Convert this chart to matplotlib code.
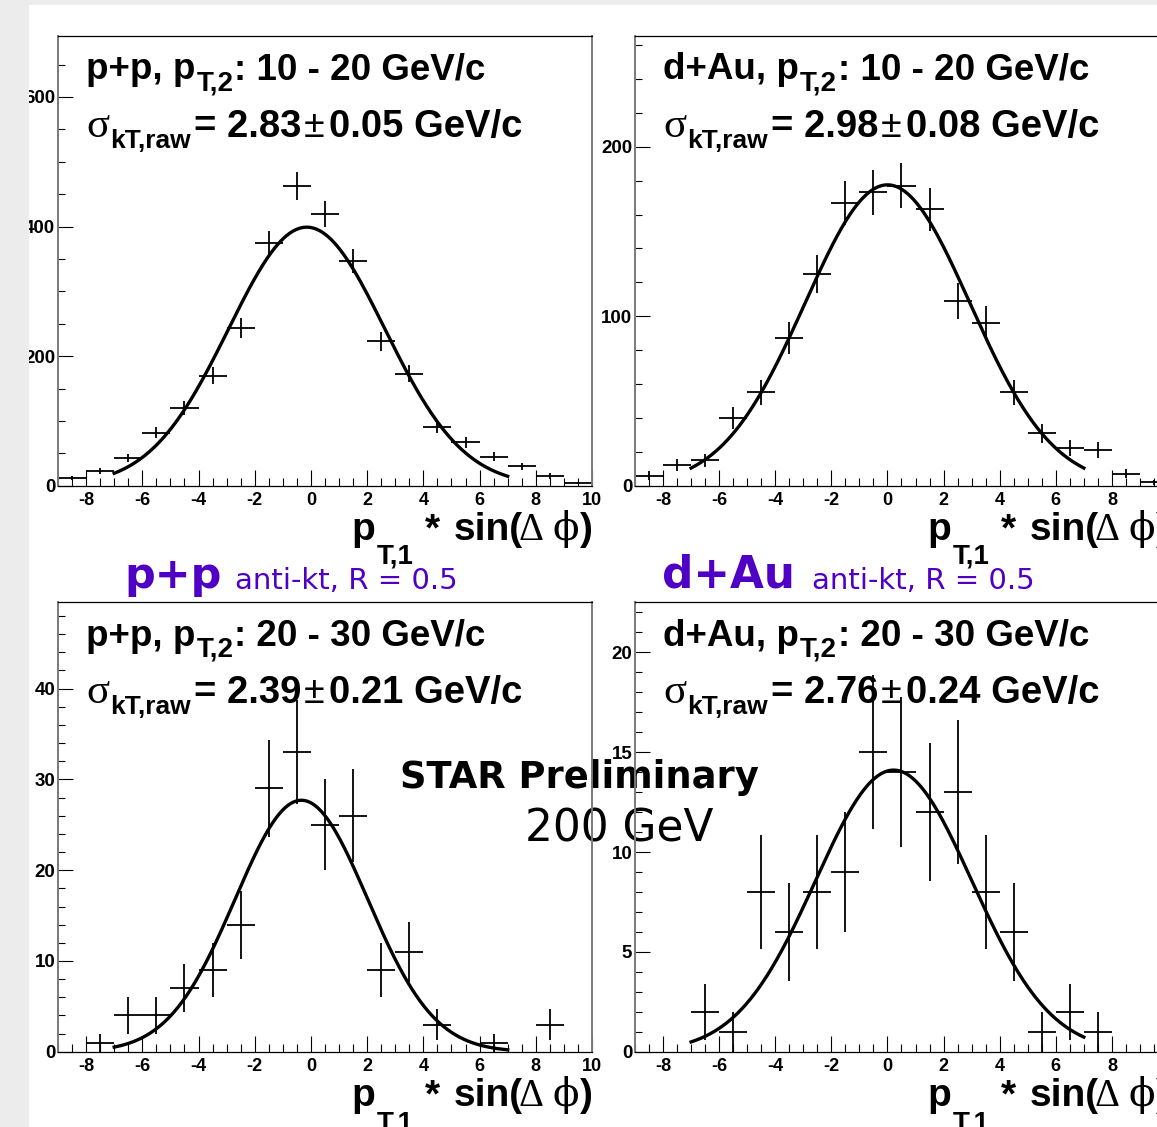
import numpy as np
import matplotlib
matplotlib.use("Agg")
import matplotlib.pyplot as plt
from matplotlib.patches import Rectangle
from matplotlib.ticker import MultipleLocator

plt.rcParams['axes.unicode_minus'] = False

# ---------------- data ----------------
# p+p, pT2 10-20
pp1_x = [-8.5, -7.5, -6.5, -5.5, -4.5, -3.5, -2.5, -1.5, -0.5, 0.5, 1.5, 2.5, 3.5, 4.5, 5.5, 6.5, 7.5, 8.5, 9.5]
pp1_y = [12, 22, 43, 82, 120, 170, 243, 374, 463, 419, 347, 223, 173, 91, 67, 45, 30, 15, 4]
pp1_e = [3.5, 4.7, 6.6, 9.1, 11.0, 13.0, 15.6, 19.3, 21.5, 20.5, 18.6, 14.9, 13.2, 9.5, 8.2, 6.7, 5.5, 3.9, 2.0]
pp1_fit = (399.0, -0.15, 2.78)   # amplitude, mean, sigma

# d+Au, pT2 10-20
da1_x = [-8.5, -7.5, -6.5, -5.5, -4.5, -3.5, -2.5, -1.5, -0.5, 0.5, 1.5, 2.5, 3.5, 4.5, 5.5, 6.5, 7.5, 8.5, 9.5]
da1_y = [6, 12, 15, 40, 55, 87, 125, 167, 173, 177, 163, 109, 96, 55, 31, 22, 21, 7, 2]
da1_e = [2.4, 3.5, 3.9, 6.3, 7.4, 9.3, 11.2, 12.9, 13.2, 13.3, 12.8, 10.4, 9.8, 7.4, 5.6, 4.7, 4.6, 2.6, 1.4]
da1_fit = (177.5, 0.0, 2.94)

# p+p, pT2 20-30
pp2_x = [-7.5, -6.5, -5.5, -4.5, -3.5, -2.5, -1.5, -0.5, 0.5, 1.5, 2.5, 3.5, 4.5, 6.5, 8.5]
pp2_y = [1, 4, 4, 7, 9, 14, 29, 33, 25, 26, 9, 11, 3, 1, 3]
pp2_e = [1.0, 2.0, 2.0, 2.65, 3.0, 3.74, 5.39, 5.74, 5.0, 5.1, 3.0, 3.32, 1.73, 1.0, 1.73]
pp2_fit = (27.7, -0.34, 2.36)

# d+Au, pT2 20-30
da2_x = [-6.5, -5.5, -4.5, -3.5, -2.5, -1.5, -0.5, 0.5, 1.5, 2.5, 3.5, 4.5, 5.5, 6.5, 7.5]
da2_y = [2, 1, 8, 6, 8, 9, 15, 14, 12, 13, 8, 6, 1, 2, 1]
da2_e = [1.41, 1.0, 2.83, 2.45, 2.83, 3.0, 3.87, 3.74, 3.46, 3.61, 2.83, 2.45, 1.0, 1.41, 1.0]
da2_fit = (14.1, 0.22, 2.79)

systems = ['p+p', 'd+Au', 'p+p', 'd+Au']
pt_ranges = ['10 - 20', '10 - 20', '20 - 30', '20 - 30']
panel_sigmas = ['2.83', '2.98', '2.39', '2.76']
panel_sigerr = ['0.05', '0.08', '0.21', '0.24']
ymajor = [200, 100, 10, 5]
yminor = [50, 20, 2, 1]

# ---------------- figure ----------------
W, H = 1157, 1127
fig = plt.figure(figsize=(W / 100, H / 100), dpi=100)
fig.patch.set_facecolor('white')
renderer = fig.canvas.get_renderer()


def add_ax(x0, y0, x1, y1):
    return fig.add_axes([x0 / W, 1 - y1 / H, (x1 - x0) / W, (y1 - y0) / H])


def ftext(x, y, s, **kw):
    return fig.text(x / W, 1 - y / H, s, **kw)


SANS = 'Liberation Sans'
SERIF = 'Liberation Serif'


def pieces(x, yb, parts, ha='left', zorder=3):
    """parts: (text, size, weight, family, dy_px, gap_before_px)"""
    objs, widths = [], []
    for s, size, weight, fam, dy, gap in parts:
        t = fig.text(0, 0, s, fontsize=size, fontweight=weight, family=fam,
                     va='baseline', ha='left', zorder=zorder)
        widths.append(t.get_window_extent(renderer).width)
        objs.append(t)
    total = sum(w + p[5] for w, p in zip(widths, parts))
    cx = x - total if ha == 'right' else x
    for t, w, p in zip(objs, widths, parts):
        cx += p[5]
        t.set_position((cx / W, 1 - (yb + p[4]) / H))
        cx += w


boxes = [(58, 35.7, 592, 485.7), (635, 35.7, 1168, 485.7),
         (58, 602.3, 592, 1051.8), (635, 602.3, 1168, 1051.8)]
datasets = [(pp1_x, pp1_y, pp1_e, pp1_fit), (da1_x, da1_y, da1_e, da1_fit),
            (pp2_x, pp2_y, pp2_e, pp2_fit), (da2_x, da2_y, da2_e, da2_fit)]

for i, (box, (xs, ys, es, fit)) in enumerate(zip(boxes, datasets)):
    ax = add_ax(*box)
    ax.patch.set_visible(False)
    ax.errorbar(xs, ys, xerr=0.5, yerr=es, fmt='none', ecolor='black',
                elinewidth=1.3, capsize=0)
    A, mu, sg = fit
    xf = np.linspace(-7, 7, 400)
    ax.plot(xf, A * np.exp(-(xf - mu) ** 2 / (2 * sg ** 2)), color='black', lw=2.4)
    ax.set_xlim(-9, 10)
    ax.set_ylim(0, 1.5 * max(ys))
    ax.xaxis.set_major_locator(MultipleLocator(2))
    ax.xaxis.set_minor_locator(MultipleLocator(0.5))
    ax.yaxis.set_major_locator(MultipleLocator(ymajor[i]))
    ax.yaxis.set_minor_locator(MultipleLocator(yminor[i]))
    ax.tick_params(axis='x', which='major', direction='in', length=11.5, width=0.8,
                   pad=4.5, top=False, labelsize=13)
    ax.tick_params(axis='x', which='minor', direction='in', length=5.8, width=0.8, top=False)
    ax.tick_params(axis='y', which='major', direction='in', length=10.8, width=0.8,
                   pad=2, right=False, labelsize=13.5)
    ax.tick_params(axis='y', which='minor', direction='in', length=5.0, width=0.8, right=False)
    for lab in ax.get_xticklabels() + ax.get_yticklabels():
        lab.set_fontfamily(SANS)
        lab.set_fontweight('bold')
    for s in ['top', 'bottom']:
        ax.spines[s].set_color('black')
        ax.spines[s].set_linewidth(0.9)
    for s in ['left', 'right']:
        ax.spines[s].set_color('#7a7a7a')
        ax.spines[s].set_linewidth(1.4)

    x0, y0, x1, y1 = box
    tx = 86 if i % 2 == 0 else 663
    pieces(tx, y0 + 43.5, [
        (systems[i] + ', p', 26.5, 'bold', SANS, 0, 0),
        ('T,2', 20, 'bold', SANS, 11, 1),
        (': ' + pt_ranges[i] + ' GeV/c', 26.5, 'bold', SANS, 0, 1),
    ])
    pieces(tx, y0 + 101, [
        ('\u03c3', 31, 'normal', SERIF, 0, 0),
        ('kT,raw', 19, 'bold', SANS, 11, 1),
        ('= ' + panel_sigmas[i], 27.5, 'bold', SANS, 0, 3),
        ('\u00b1', 27, 'normal', SANS, 0, 3),
        (panel_sigerr[i] + ' GeV/c', 27.5, 'bold', SANS, 0, 4),
    ])
    pieces(x1 + 1, y1 + 54.3, [
        ('p', 28, 'bold', SANS, 0, 0),
        ('T,1', 20, 'bold', SANS, 24, 1),
        ('*', 28, 'bold', SANS, 0, 12),
        ('sin(', 28, 'bold', SANS, 0, 13),
        ('\u0394', 28, 'normal', SERIF, 0, -4),
        ('\u03d5', 28, 'normal', 'DejaVu Serif', 0, 9),
        (')', 28, 'bold', SANS, 0, 1),
    ], ha='right')

purple = '#5000c4'
ftext(124, 588, 'p+p', fontsize=31, fontweight='bold', color=purple,
      family='DejaVu Sans', va='baseline')
ftext(235, 589, 'anti-kt, R = 0.5', fontsize=21, color=purple,
      family='DejaVu Sans', va='baseline')
ftext(662, 588, 'd+Au', fontsize=31.5, fontweight='bold', color=purple,
      family='DejaVu Sans', va='baseline')
ftext(812, 589, 'anti-kt, R = 0.5', fontsize=21, color=purple,
      family='DejaVu Sans', va='baseline')

ftext(400, 788, 'STAR Preliminary', fontsize=26.6, fontweight='bold', color='black',
      family='DejaVu Sans', va='baseline', zorder=-1)
ftext(525, 842, '200 GeV', fontsize=31.5, color='black',
      family='DejaVu Sans', va='baseline', zorder=-1)

# grey slide border strips
gray = '#ececec'
fig.patches.append(Rectangle((0, 0), 29 / W, 1, transform=fig.transFigure,
                             facecolor=gray, edgecolor='none', zorder=30))
fig.patches.append(Rectangle((0, 1 - 5 / H), 1, 5 / H, transform=fig.transFigure,
                             facecolor=gray, edgecolor='none', zorder=30))

fig.savefig('out.png', dpi=100)
